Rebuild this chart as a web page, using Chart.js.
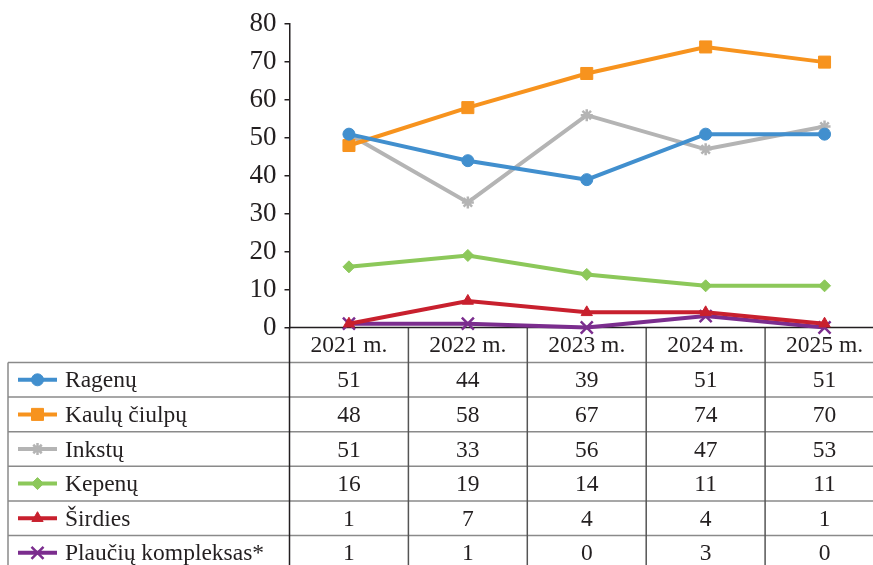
<!DOCTYPE html>
<html>
<head>
<meta charset="utf-8">
<script src="https://cdn.jsdelivr.net/npm/chart.js@4.4.1/dist/chart.umd.min.js"></script>
<style>
  html, body { margin: 0; padding: 0; overflow: hidden; background: #fff; }
  #wrap { width: 873px; height: 565px; overflow: hidden; }
</style>
</head>
<body>
<div id="wrap"><canvas id="chart" width="900" height="565"></canvas></div>
<script>
// Data
const years = ['2021 m.', '2022 m.', '2023 m.', '2024 m.', '2025 m.'];
const seriesNames = ['Ragenų', 'Kaulų čiulpų', 'Inkstų', 'Kepenų', 'Širdies', 'Plaučių kompleksas*'];
const ragenu   = [51, 44, 39, 51, 51];
const kaulu    = [48, 58, 67, 74, 70];
const inkstu   = [51, 33, 56, 47, 53];
const kepenu   = [16, 19, 14, 11, 11];
const sirdies  = [1, 7, 4, 4, 1];
const plauciu  = [1, 1, 0, 3, 0];
const yTicks   = { min: 0, max: 80, step: 10 };

const FONT = "'Liberation Serif', 'Times New Roman', serif";
const INK = '#231f20';

// colour + marker per series
const styles = [
  { color: '#418fce', point: 'circle',   r: 6,   bw: 1 },
  { color: '#f7931e', point: 'rect',     r: 8.5, bw: 1 },
  { color: '#b4b4b4', point: 'star',     r: 6,   bw: 2.5 },
  { color: '#8cc85a', point: 'rectRot',  r: 6,   bw: 1 },
  { color: '#c8202e', point: 'triangle', r: 6.5, bw: 1 },
  { color: '#7b2d8e', point: 'crossRot', r: 8.5, bw: 2.5 },
];
const values = [ragenu, kaulu, inkstu, kepenu, sirdies, plauciu];

function marker(ctx, st, x, y) {
  ctx.fillStyle = st.color;
  ctx.strokeStyle = st.color;
  ctx.lineWidth = st.bw;
  if (Chart.helpers && Chart.helpers.drawPoint) {
    Chart.helpers.drawPoint(ctx, { pointStyle: st.point, radius: st.r, rotation: 0, borderWidth: st.bw }, x, y);
  } else {
    ctx.beginPath();
    ctx.arc(x, y, st.r, 0, Math.PI * 2);
    ctx.fill();
  }
}

// Data table under the plot, aligned to the x scale
const tablePlugin = {
  id: 'dataTable',
  beforeDatasetsDraw(chart) {
    const { ctx, chartArea, scales } = chart;
    const xs = scales.x;
    const n = years.length;
    const colW = (chartArea.right - chartArea.left) / n;
    const top = chartArea.bottom;
    const rowH = 34.6;
    const headH = 35;
    const tableLeft = 8;
    const bottom = top + headH + rowH * seriesNames.length;

    ctx.save();
    // horizontal row lines
    ctx.strokeStyle = '#8a8a8a';
    ctx.lineWidth = 1.5;
    for (let i = 0; i <= seriesNames.length; i++) {
      const y = top + headH + rowH * i;
      ctx.beginPath();
      ctx.moveTo(tableLeft, y);
      ctx.lineTo(chartArea.right, y);
      ctx.stroke();
    }
    // left border
    ctx.beginPath();
    ctx.moveTo(tableLeft, top + headH);
    ctx.lineTo(tableLeft, bottom);
    ctx.stroke();
    // column separators
    ctx.strokeStyle = '#555';
    for (let i = 1; i <= n; i++) {
      const x = chartArea.left + colW * i;
      ctx.beginPath();
      ctx.moveTo(x, top);
      ctx.lineTo(x, bottom);
      ctx.stroke();
    }
    // y axis continuation through the table
    ctx.strokeStyle = INK;
    ctx.beginPath();
    ctx.moveTo(chartArea.left, top);
    ctx.lineTo(chartArea.left, bottom);
    ctx.stroke();
    // x axis line
    ctx.beginPath();
    ctx.moveTo(chartArea.left, top);
    ctx.lineTo(chartArea.right, top);
    ctx.stroke();

    // header text
    ctx.fillStyle = INK;
    ctx.font = `23.5px ${FONT}`;
    ctx.textAlign = 'center';
    ctx.textBaseline = 'middle';
    years.forEach((yr, i) => {
      ctx.fillText(yr, xs.getPixelForValue(i), top + headH / 2 + 1);
    });

    // rows
    seriesNames.forEach((name, r) => {
      const cy = top + headH + rowH * r + rowH / 2;
      const st = styles[r];
      ctx.strokeStyle = st.color;
      ctx.lineWidth = 4;
      ctx.beginPath();
      ctx.moveTo(18, cy);
      ctx.lineTo(57, cy);
      ctx.stroke();
      marker(ctx, st, 37.5, cy);

      ctx.fillStyle = INK;
      ctx.font = `23.5px ${FONT}`;
      ctx.textAlign = 'left';
      ctx.fillText(name, 65, cy + 1.5);
      ctx.textAlign = 'center';
      values[r].forEach((v, i) => {
        ctx.fillText(String(v), xs.getPixelForValue(i), cy + 1.5);
      });
    });
    ctx.restore();
  },
};

new Chart(document.getElementById('chart'), {
  type: 'line',
  data: {
    labels: years,
    datasets: seriesNames.map((name, i) => ({
      label: name,
      data: values[i],
      borderColor: styles[i].color,
      backgroundColor: styles[i].color,
      pointBorderColor: styles[i].color,
      pointBackgroundColor: styles[i].color,
      pointStyle: styles[i].point,
      pointRadius: styles[i].r,
      pointBorderWidth: styles[i].bw,
      borderWidth: 4,
      tension: 0,
      clip: false,
    })),
  },
  options: {
    responsive: false,
    animation: false,
    layout: { padding: { left: 229.5, top: 23, right: 16, bottom: 237.5 } },
    plugins: { legend: { display: false }, tooltip: { enabled: false } },
    scales: {
      x: { display: false, offset: true },
      y: {
        min: yTicks.min,
        max: yTicks.max,
        afterFit(scale) { scale.width = 60; },
        ticks: {
          stepSize: yTicks.step,
          padding: 8,
          color: INK,
          font: { family: FONT, size: 27 },
        },
        grid: { drawOnChartArea: false, drawTicks: true, tickLength: 5, color: INK, lineWidth: 1.5 },
        border: { color: INK, width: 1.5 },
      },
    },
  },
  plugins: [tablePlugin],
});
</script>
</body>
</html>
